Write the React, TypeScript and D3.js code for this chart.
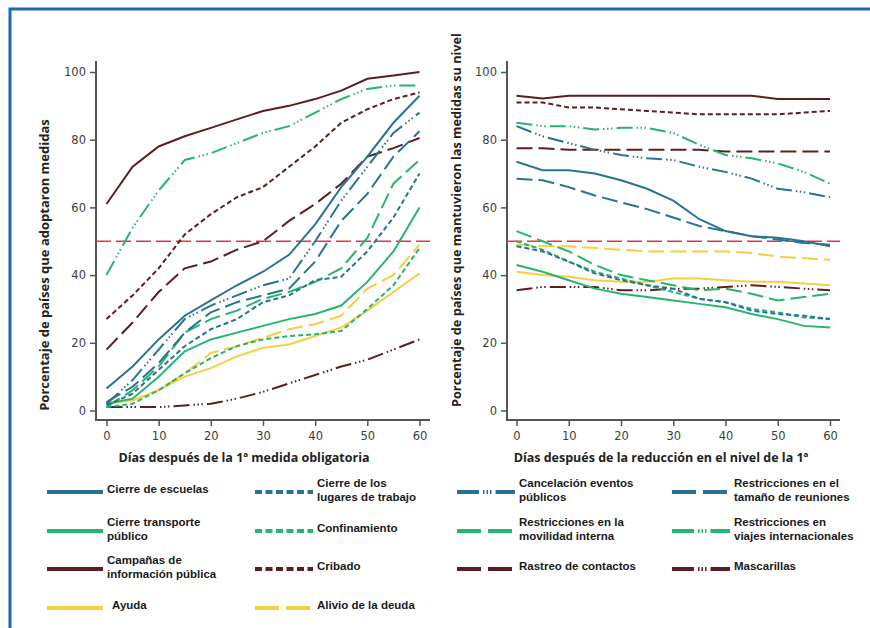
import React, { useEffect, useRef } from 'react';
import * as d3 from 'd3';

// días sobre el eje x (cada 5 días)
const days = [0, 5, 10, 15, 20, 25, 30, 35, 40, 45, 50, 55, 60];
const xTicks = [0, 10, 20, 30, 40, 50, 60];
const yTicks = [0, 20, 40, 60, 80, 100];

// panel izquierdo: % de países que adoptaron la medida
const adoptEscuelas = [6.5, 13, 21, 28, 32.5, 37, 41, 46, 55, 66, 75, 85, 93];
const adoptLugares = [1.5, 5, 12, 19, 24, 27, 32, 34, 38.5, 39.5, 47, 57, 70];
const adoptEventos = [2, 9, 18, 27, 31, 34, 37, 39, 50, 62, 72, 82, 88];
const adoptReuniones = [2.5, 7, 14, 23, 29, 32, 34, 36, 44, 56, 64, 75, 82.5];
const adoptTransporte = [2, 3.5, 10, 17.5, 21, 23, 25, 27, 28.5, 31, 38, 47, 60];
const adoptConfinamiento = [1, 2, 6, 11, 15.5, 19, 21, 22, 22.5, 23.5, 30, 37, 48];
const adoptMovilidad = [1, 6, 13, 23, 27, 29.5, 33, 35, 38, 42, 51, 67, 74];
const adoptViajes = [40, 54, 65, 74, 76, 79, 82, 84, 88, 92, 95, 96, 96];
const adoptCampanas = [61, 72, 78, 81, 83.5, 86, 88.5, 90, 92, 94.5, 98, 99, 100];
const adoptCribado = [27, 34, 42, 52, 58, 63, 66, 72, 78, 85, 89, 92, 94];
const adoptRastreo = [18, 26, 35, 42, 44, 47.5, 50, 56, 61, 67, 75, 77.5, 80.5];
const adoptMascarillas = [1, 1, 1, 1.5, 2, 3.5, 5.5, 8, 10.5, 13, 15, 18, 21];
const adoptAyuda = [2, 3, 6, 10, 12.5, 16, 18.5, 19.5, 22, 24.5, 29.5, 35, 40.5];
const adoptDeuda = [2.5, 3, 6, 11, 17, 19, 21.5, 24, 25.5, 28, 36, 40, 49];

// panel derecho: % de países que mantuvieron la medida
const keepEscuelas = [73.5, 71, 71, 70, 68, 65.5, 62, 56.5, 53, 51.5, 51, 50, 48.5];
const keepLugares = [48.5, 47, 44, 40.5, 38.5, 37, 36, 33, 32, 29.5, 28.5, 28, 27];
const keepEventos = [84, 81, 79, 77, 75.5, 74.5, 74, 72, 70.5, 68.5, 65.5, 64.5, 63];
const keepReuniones = [68.5, 68, 66, 63.5, 61.5, 59.5, 57, 54.5, 53, 51.5, 50.5, 49.5, 49];
const keepTransporte = [43, 41, 38.5, 36, 34.5, 33.5, 32.5, 31.5, 30.5, 28.5, 27, 25, 24.5];
const keepConfinamiento = [50, 47.5, 44, 41, 39, 37, 35, 33, 32, 30, 29, 27.5, 27];
const keepMovilidad = [53, 50, 47, 43, 40, 38.5, 37, 35.5, 36, 34.5, 32.5, 33.5, 34.5];
const keepViajes = [85, 84, 84, 83, 83.5, 83.5, 82, 78.5, 75.5, 74.5, 73, 70.5, 67];
const keepCampanas = [93, 92.2, 93, 93, 93, 93, 93, 93, 93, 93, 92, 92, 92];
const keepCribado = [91, 91, 89.5, 89.5, 89, 88.5, 88, 87.5, 87.5, 87.5, 87.5, 88, 88.5];
const keepRastreo = [77.5, 77.5, 77, 77, 77, 77, 77, 77, 76.5, 76.5, 76.5, 76.5, 76.5];
const keepMascarillas = [35.5, 36.5, 36.5, 36.5, 35.5, 35.5, 36, 36, 36.5, 37, 36.5, 36, 35.5];
const keepAyuda = [41, 40, 39.5, 38.5, 38, 38, 39, 39, 38.5, 38, 38, 37.5, 37];
const keepDeuda = [49, 48.5, 48.5, 48, 47.5, 47, 47, 47, 47, 46.5, 45.5, 45, 44.5];

const colors = { blue: '#287393', green: '#27b46e', brown: '#5c1e20', yellow: '#f6cf40' };
const lineDash = { solid: null, dot: '5,3', long: '16,6', dashdot: '16,4,1.5,2.5,1.5,2.5,1.5,4' };
const legendDash = { solid: null, dot: '7,3.5', long: '24,7', dashdot: '22,4,1.5,2,1.5,2,1.5,4' };

// leyenda por filas
const series = [
  { label: ['Cierre de escuelas'], color: 'blue', dash: 'solid', left: adoptEscuelas, right: keepEscuelas },
  { label: ['Cierre de los', 'lugares de trabajo'], color: 'blue', dash: 'dot', left: adoptLugares, right: keepLugares },
  { label: ['Cancelación eventos', 'públicos'], color: 'blue', dash: 'dashdot', left: adoptEventos, right: keepEventos },
  { label: ['Restricciones en el', 'tamaño de reuniones'], color: 'blue', dash: 'long', left: adoptReuniones, right: keepReuniones },
  { label: ['Cierre transporte', 'público'], color: 'green', dash: 'solid', left: adoptTransporte, right: keepTransporte },
  { label: ['Confinamiento'], color: 'green', dash: 'dot', left: adoptConfinamiento, right: keepConfinamiento },
  { label: ['Restricciones en la', 'movilidad interna'], color: 'green', dash: 'long', left: adoptMovilidad, right: keepMovilidad },
  { label: ['Restricciones en', 'viajes internacionales'], color: 'green', dash: 'dashdot', left: adoptViajes, right: keepViajes },
  { label: ['Campañas de', 'información pública'], color: 'brown', dash: 'solid', left: adoptCampanas, right: keepCampanas },
  { label: ['Cribado'], color: 'brown', dash: 'dot', left: adoptCribado, right: keepCribado },
  { label: ['Rastreo de contactos'], color: 'brown', dash: 'long', left: adoptRastreo, right: keepRastreo },
  { label: ['Mascarillas'], color: 'brown', dash: 'dashdot', left: adoptMascarillas, right: keepMascarillas },
  { label: ['Ayuda'], color: 'yellow', dash: 'solid', left: adoptAyuda, right: keepAyuda },
  { label: ['Alivio de la deuda'], color: 'yellow', dash: 'long', left: adoptDeuda, right: keepDeuda },
];

const panels = [
  { side: 'left', x0: 96, x1: 430, r0: 106.5, r1: 419.5, xTitle: 'Días después de la 1ª medida obligatoria', xTitleX: 244, yTitle: 'Porcentaje de países que adoptaron medidas', yTitleX: 49, yTitleY: 265, yTitleSize: '13px' },
  { side: 'right', x0: 507, x1: 840, r0: 516.5, r1: 830, xTitle: 'Días después de la reducción en el nivel de la 1ª', xTitleX: 661, yTitle: 'Porcentaje de países que mantuvieron las medidas su nivel', yTitleX: 461, yTitleY: 220, yTitleSize: '12.7px' },
];

const App = () => {
  const ref = useRef(null);

  useEffect(() => {
    const svg = d3.select(ref.current);
    svg.selectAll('*').remove();

    // marco azul
    svg.append('path')
      .attr('d', 'M10,628V9H870')
      .attr('fill', 'none')
      .attr('stroke', '#1b69ad')
      .attr('stroke-width', 3);

    const y = d3.scaleLinear().domain([0, 100]).range([410.5, 72]);

    panels.forEach((p) => {
      const x = d3.scaleLinear().domain([0, 60]).range([p.r0, p.r1]);
      const g = svg.append('g');

      // eje y
      const ya = g.append('g')
        .attr('transform', `translate(${p.x0},0)`)
        .call(d3.axisLeft(y).tickValues(yTicks).tickSize(6).tickPadding(4));
      ya.select('.domain').remove();
      // eje x
      const xa = g.append('g')
        .attr('transform', 'translate(0,420)')
        .call(d3.axisBottom(x).tickValues(xTicks).tickSize(6).tickPadding(6));
      xa.select('.domain').remove();
      g.selectAll('.tick line').attr('stroke', '#555').attr('stroke-width', 1.5);
      g.selectAll('.tick text')
        .attr('fill', '#3d3d3d')
        .style('font-family', 'DejaVu Sans')
        .style('font-size', '11.5px');

      g.append('path')
        .attr('d', `M${p.x0},61V420H${p.x1}`)
        .attr('fill', 'none')
        .attr('stroke', '#555')
        .attr('stroke-width', 2);

      // línea del 50 %
      g.append('line')
        .attr('x1', p.x0).attr('x2', p.x1)
        .attr('y1', y(50)).attr('y2', y(50))
        .attr('stroke', '#ea2f4e')
        .attr('stroke-width', 1.5)
        .attr('stroke-dasharray', '15,5');

      const line = d3.line()
        .x((d, i) => x(days[i]))
        .y(d => y(d));

      [...series].reverse().forEach((s) => {
        g.append('path')
          .datum(s[p.side])
          .attr('d', line)
          .attr('fill', 'none')
          .attr('stroke', colors[s.color])
          .attr('stroke-width', 2)
          .attr('stroke-dasharray', lineDash[s.dash]);
      });

      // títulos de los ejes
      g.append('text')
        .attr('x', p.xTitleX)
        .attr('y', 462)
        .attr('text-anchor', 'middle')
        .style('font-family', 'Open Sans')
        .style('font-weight', 700)
        .style('font-size', '12.5px')
        .attr('fill', '#222')
        .text(p.xTitle);
      g.append('text')
        .attr('transform', `translate(${p.yTitleX},${p.yTitleY}) rotate(-90)`)
        .attr('text-anchor', 'middle')
        .style('font-family', 'Open Sans')
        .style('font-weight', 700)
        .style('font-size', p.yTitleSize)
        .attr('fill', '#222')
        .text(p.yTitle);
    });

    // leyenda
    const colX = [47, 255, 457, 672];
    const rowY = [492, 531, 569, 608];
    const leg = svg.append('g');
    series.forEach((s, i) => {
      const cx = colX[i % 4];
      const cy = rowY[Math.floor(i / 4)];
      const w = s.dash === 'solid' ? 56 : 58;
      const tx = cx + w + (s.label[0] === 'Ayuda' ? 9 : 4);
      leg.append('line')
        .attr('x1', cx).attr('x2', cx + w)
        .attr('y1', cy).attr('y2', cy)
        .attr('stroke', colors[s.color])
        .attr('stroke-width', 4)
        .attr('stroke-dasharray', legendDash[s.dash]);
      const t = leg.append('text')
        .attr('x', tx)
        .attr('y', s.label.length > 1 ? cy - 5 : cy + 1)
        .style('font-family', 'Liberation Sans')
        .style('font-weight', 700)
        .style('font-size', '11.5px')
        .attr('fill', '#1a1a1a');
      s.label.forEach((l, k) => {
        t.append('tspan')
          .attr('x', tx)
          .attr('dy', k === 0 ? 0 : 14)
          .text(l);
      });
    });
  }, []);

  return (
    <svg
      ref={ref}
      width={870}
      height={628}
      style={{ position: 'absolute', left: 0, top: 0, background: '#fff' }}
    />
  );
};

export default App;
